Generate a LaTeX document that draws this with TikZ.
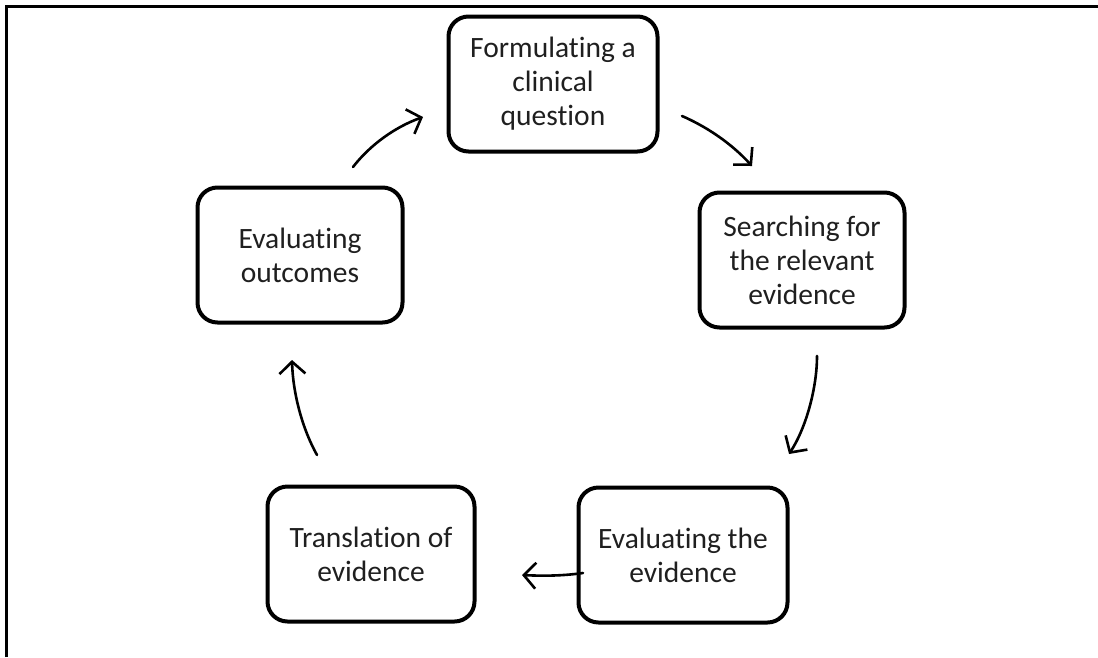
\documentclass[tikz,border=0pt]{standalone}
\usepackage{fontspec}
\setmainfont{Carlito}[Ligatures=NoCommon]
\usetikzlibrary{arrows.meta}
\begin{document}
\begin{tikzpicture}[x=1pt,y=-1pt,
  stage/.style={draw=black, line width=4pt, rounded corners=20pt,
    minimum width=#1, minimum height=135pt, align=center, inner sep=0pt,
    font=\fontsize{29.5}{34}\selectfont, text=black!88},
  stage/.default=207pt,
  cyc/.style={line width=2.6pt, -{Straight Barb[length=12pt,width=26pt,line width=2.6pt]}, line cap=round},
  frame/.style={line width=3pt}]
\useasboundingbox (0,0) rectangle (1098,657);
\coordinate (fa) at (6.5,657);
\coordinate (fb) at (6.5,6.5);
\coordinate (fc) at (1098,6.5);
\draw[frame] (fa) -- (fb) -- (fc);
\node[stage=209pt] (form) at (553,84) {Formulating a\\clinical\\question};
\node[stage=205pt] (search) at (802,260) {Searching for\\the relevant\\evidence};
\node[stage=209pt] (evalev) at (683,555) {Evaluating the\\evidence};
\node[stage=207pt] (trans) at (371,554) {Translation of\\evidence};
\node[stage=205pt] (evalout) at (300,255) {Evaluating\\outcomes};
\coordinate (a1s) at (682,116); \coordinate (a1e) at (752,166);
\coordinate (a2s) at (817,356); \coordinate (a2e) at (789,454);
\coordinate (a3s) at (583,573); \coordinate (a3e) at (522,575);
\coordinate (a4s) at (317,455); \coordinate (a4e) at (292,360);
\coordinate (a5s) at (353,167); \coordinate (a5e) at (423,117);
\draw[cyc] (a1s) .. controls (705,126) and (730,142) .. (a1e);
\draw[cyc] (a2s) .. controls (817,388) and (806,428) .. (a2e);
\draw[cyc] (a3s) .. controls (562,576) and (542,576) .. (a3e);
\draw[cyc] (a4s) .. controls (303,430) and (293,395) .. (a4e);
\draw[cyc] (a5s) .. controls (370,145) and (395,127) .. (a5e);
\end{tikzpicture}
\end{document}
